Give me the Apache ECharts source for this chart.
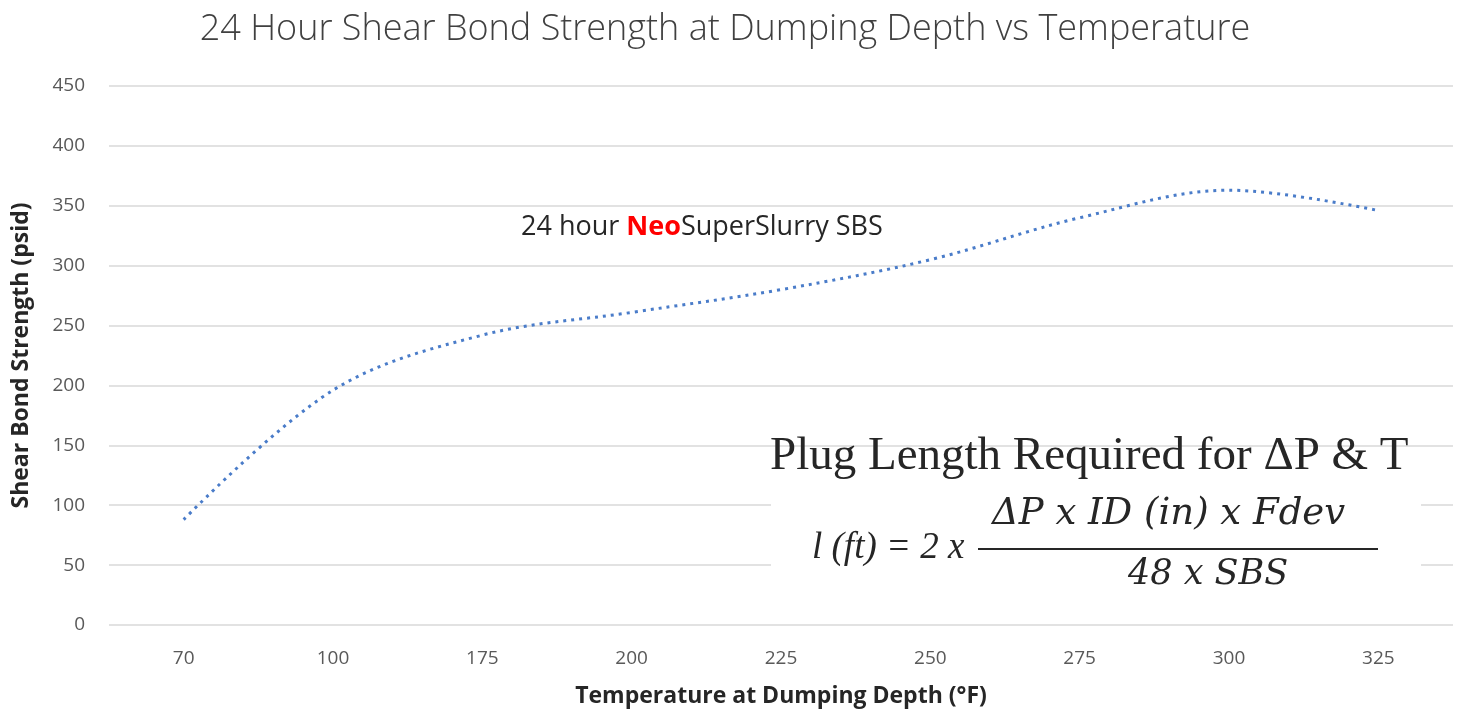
<!DOCTYPE html>
<html>
<head>
<meta charset="utf-8">
<script src="https://cdn.jsdelivr.net/npm/echarts@6/dist/echarts.min.js"></script>
<style>
html,body{margin:0;padding:0;background:#fff;}
#chart{width:1460px;height:717px;}
</style>
</head>
<body>
<div id="chart"></div>
<script>
const categories = ['70', '100', '175', '200', '225', '250', '275', '300', '325'];
const sbsValues = [88, 196, 242, 261, 280, 305, 340, 363, 346];
const yTicks = { min: 0, max: 450, interval: 50 };

const chart = echarts.init(document.getElementById('chart'));
const serif = '"Liberation Serif", serif';
const wideSerif = '"DejaVu Serif", serif';
chart.setOption({
  animation: false,
  backgroundColor: '#ffffff',
  title: {
    text: '24 Hour Shear Bond Strength at Dumping Depth vs Temperature',
    left: 720, top: 7, textAlign: 'center',
    textStyle: { fontFamily: '"Open Sans"', fontWeight: 300, fontSize: 36, color: '#404040' }
  },
  grid: { left: 109, right: 7, top: 86, bottom: 92 },
  xAxis: {
    type: 'category',
    data: categories,
    boundaryGap: true,
    axisLine: { show: false },
    axisTick: { show: false },
    axisLabel: { color: '#595959', fontFamily: '"Open Sans"', fontSize: 19, margin: 24 },
    name: 'Temperature at Dumping Depth (°F)',
    nameLocation: 'middle',
    nameGap: 60,
    nameTextStyle: { color: '#262626', fontFamily: '"Open Sans"', fontWeight: 'bold', fontSize: 23 }
  },
  yAxis: {
    type: 'value',
    min: yTicks.min, max: yTicks.max, interval: yTicks.interval,
    axisLine: { show: false },
    axisTick: { show: false },
    splitLine: { lineStyle: { color: '#d9d9d9', width: 1.5 } },
    axisLabel: { color: '#595959', fontFamily: '"Open Sans"', fontSize: 19, margin: 24 },
    name: 'Shear Bond Strength (psid)',
    nameLocation: 'middle',
    nameGap: 76,
    nameRotate: 90,
    nameTextStyle: { color: '#262626', fontFamily: '"Open Sans"', fontWeight: 'bold', fontSize: 23 }
  },
  series: [{
    type: 'line',
    data: sbsValues,
    smooth: 0.35,
    symbol: 'none',
    lineStyle: { color: '#4a7cc9', width: 3, type: [3, 5], cap: 'butt' },
    z: 2
  }],
  graphic: [
    {
      type: 'text', left: 521, top: 214, z: 10,
      style: {
        text: '24 hour {neo|Neo}SuperSlurry SBS',
        font: '27px "Open Sans"',
        fill: '#262626',
        rich: { neo: { fill: '#ff0000', fontWeight: 'bold', fontSize: 27, fontFamily: '"Open Sans"' } }
      }
    },
    {
      type: 'rect', z: 5, shape: { x: 771, y: 482, width: 650, height: 118 },
      style: { fill: '#ffffff' }
    },
    {
      type: 'text', left: 770, top: 433, z: 10,
      style: { text: 'Plug Length Required for ΔP & T', font: '47px ' + serif, fill: '#262626' }
    },
    {
      type: 'text', left: 812, top: 530, z: 10,
      style: { text: 'l (ft) = 2 x', font: 'italic 37px ' + serif, fill: '#262626' }
    },
    {
      type: 'text', left: 992, top: 496, z: 10,
      style: { text: 'ΔP x ID (in) x Fdev', font: 'italic 37px ' + wideSerif, fill: '#262626' }
    },
    {
      type: 'line', z: 10, shape: { x1: 978, y1: 549, x2: 1378, y2: 549 },
      style: { stroke: '#262626', lineWidth: 2 }
    },
    {
      type: 'text', left: 1128, top: 557, z: 10,
      style: { text: '48 x SBS', font: 'italic 35px ' + wideSerif, fill: '#262626' }
    }
  ]
});
</script>
</body>
</html>
